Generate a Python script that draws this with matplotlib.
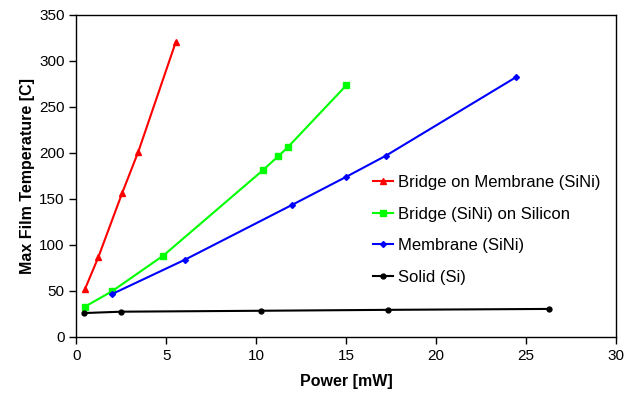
import matplotlib
matplotlib.use('Agg')
import matplotlib.pyplot as plt

plt.rcParams['font.family'] = ['Liberation Sans', 'DejaVu Sans']

# Data
bridge_mem_x = [0.47, 1.21, 2.55, 3.44, 5.52]
bridge_mem_y = [52, 86.5, 157, 201.5, 320.5]

bridge_si_x = [0.47, 1.96, 4.83, 10.35, 11.22, 11.74, 15.0]
bridge_si_y = [33, 49.5, 88.5, 181, 196.5, 206, 273.5]

membrane_x = [1.96, 6.03, 11.98, 14.99, 17.2, 24.45]
membrane_y = [46.5, 84, 143.5, 174, 197, 282.5]

solid_x = [0.4, 2.5, 10.25, 17.3, 26.3]
solid_y = [26, 27.5, 28.5, 29.5, 30.5]

fig = plt.figure(figsize=(6.39, 3.94), dpi=100)
ax = fig.add_axes([0.1197, 0.1447, 0.8443, 0.8173])

ax.plot(bridge_mem_x, bridge_mem_y, color='#ff0000', marker='^', markersize=4, lw=1.5,
        label='Bridge on Membrane (SiNi)')
ax.plot(bridge_si_x, bridge_si_y, color='#00ff00', marker='s', markersize=4, lw=1.5,
        label='Bridge (SiNi) on Silicon')
ax.plot(membrane_x, membrane_y, color='#0000ff', marker='D', markersize=3, lw=1.5,
        label='Membrane (SiNi)')
ax.plot(solid_x, solid_y, color='black', marker='o', markersize=3.5, lw=1.5,
        label='Solid (Si)')

ax.set_xlim(0, 30)
ax.set_ylim(0, 350)
ax.set_xticks(range(0, 31, 5))
ax.set_yticks(range(0, 351, 50))
ax.tick_params(labelsize=11, direction='out', length=5, width=1)
for s in ax.spines.values():
    s.set_linewidth(1)

ax.set_xlabel('Power [mW]', fontsize=11.5, fontweight='bold', labelpad=8)
ax.set_ylabel('Max Film Temperature [C]', fontsize=11.5, fontweight='bold', labelpad=3)

ax.legend(loc='upper left', bbox_to_anchor=(0.570, 0.577), bbox_transform=fig.transFigure,
          frameon=False, fontsize=12, handlelength=1.2, handletextpad=0.3,
          labelspacing=1.0, borderpad=0)

fig.savefig('out.png', dpi=100)
